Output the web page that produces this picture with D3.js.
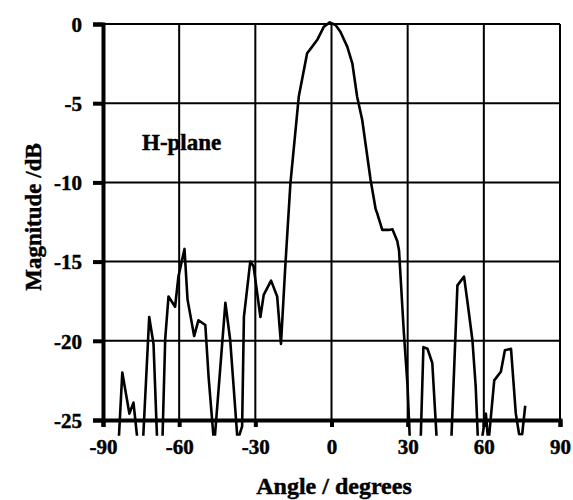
<!DOCTYPE html>
<html><head><meta charset="utf-8">
<script src="https://cdn.jsdelivr.net/npm/d3@7"></script>
<style>body{margin:0;background:#fff}svg{display:block}
text{font-family:'Liberation Serif','Times New Roman',serif;font-weight:bold;fill:#000;stroke:#000;stroke-width:0.45px}</style>
</head><body>
<svg id="c" width="573" height="500"></svg>
<script>
const angles = [-84.2,-82.4,-79.6,-78.0,-75.6,-74.6,-71.8,-70.1,-68.4,-66.8,-65.5,-64.2,-61.6,-60.3,-57.9,-56.7,-54.1,-52.4,-49.7,-48.4,-46.2,-41.8,-39.9,-37.0,-35.2,-34.5,-32.0,-30.7,-28.0,-26.7,-23.8,-21.4,-19.9,-18.2,-16.2,-12.9,-9.6,-7.6,-5.6,-3.0,-0.7,1.6,3.5,6.2,8.2,10.1,12.1,15.4,17.4,18.0,20.0,22.6,24.0,25.9,26.6,28.5,29.9,31.2,34.9,36.2,37.8,39.7,41.9,46.9,49.6,52.2,53.6,55.5,56.8,58.0,60.8,61.8,64.1,66.7,68.3,70.7,72.6,73.9,75.1,76.3];
const magnitudes = [-27.5,-22.0,-24.6,-23.9,-27.5,-27.5,-18.5,-20.2,-27.5,-27.5,-19.9,-17.2,-17.85,-15.95,-14.2,-17.4,-19.7,-18.7,-19.0,-22.3,-26.6,-17.6,-19.95,-26.3,-25.4,-18.5,-15.0,-15.3,-18.5,-17.1,-16.2,-17.2,-20.2,-15.3,-10.1,-4.6,-1.85,-1.43,-1.0,-0.17,0.1,-0.06,-0.49,-1.43,-2.48,-4.59,-6.06,-9.85,-11.7,-11.95,-13.0,-13.0,-12.96,-13.7,-14.3,-19.5,-22.7,-27.5,-27.5,-20.4,-20.5,-21.4,-27.5,-27.5,-16.5,-15.95,-17.6,-19.95,-22.9,-27.5,-24.6,-26.5,-22.5,-21.95,-20.6,-20.5,-24.6,-25.9,-25.9,-24.1];
const xTicks = [-90,-60,-30,0,30,60,90];
const yTicks = [0,-5,-10,-15,-20,-25];
const xTitle = "Angle / degrees";
const yTitle = "Magnitude /dB";
const label = "H-plane";

const svg = d3.select("#c");
const x = d3.scaleLinear().domain([-90,90]).range([103,560]);
const y = d3.scaleLinear().domain([-25,0]).range([420,24]);

svg.append("defs").append("clipPath").attr("id","clip").append("rect")
  .attr("x",0).attr("y",0).attr("width",573).attr("height",y(-26.0));

// gridlines
svg.append("g").selectAll("line").data(xTicks.slice(1)).join("line")
  .attr("x1",d=>x(d)).attr("x2",d=>x(d)).attr("y1",y(0)).attr("y2",y(-25))
  .attr("stroke","#000").attr("stroke-width",2);
svg.append("g").selectAll("line").data(yTicks.slice(0,-1)).join("line")
  .attr("x1",x(-90)).attr("x2",x(90)).attr("y1",d=>y(d)).attr("y2",d=>y(d))
  .attr("stroke","#000").attr("stroke-width",2);

// axes
const fmt = d => String(d);
const xAxis = svg.append("g").attr("transform",`translate(0,${y(-25)})`)
  .call(d3.axisBottom(x).tickValues(xTicks).tickSize(7).tickPadding(12).tickFormat(fmt));
const yAxis = svg.append("g").attr("transform",`translate(${x(-90)},0)`)
  .call(d3.axisLeft(y).tickValues(yTicks).tickSize(10).tickPadding(11).tickFormat(fmt));
[xAxis,yAxis].forEach(a=>{
  a.attr("font-family",null).attr("font-size",null);
  a.select(".domain").attr("stroke","#000").attr("stroke-width",4);
  a.selectAll(".tick line").attr("stroke","#000").attr("stroke-width",4);
  a.selectAll(".tick text").attr("fill","#000").style("font-size","21px");
});
yAxis.selectAll(".tick text").attr("dy","0.35em");

// line
svg.append("path").datum(angles.map((a,i)=>[a,magnitudes[i]]))
  .attr("clip-path","url(#clip)")
  .attr("fill","none").attr("stroke","#000").attr("stroke-width",2.6)
  .attr("stroke-linejoin","round")
  .attr("d",d3.line().x(d=>x(d[0])).y(d=>y(d[1])));

// texts
svg.append("text").attr("x",142).attr("y",150).text(label).style("font-size","23px");
svg.append("text").attr("x",334).attr("y",494).attr("text-anchor","middle").text(xTitle).style("font-size","24px");
svg.append("text").attr("transform","translate(41,217) rotate(-90)").attr("text-anchor","middle").text(yTitle).style("font-size","23px");
</script>
</body></html>
